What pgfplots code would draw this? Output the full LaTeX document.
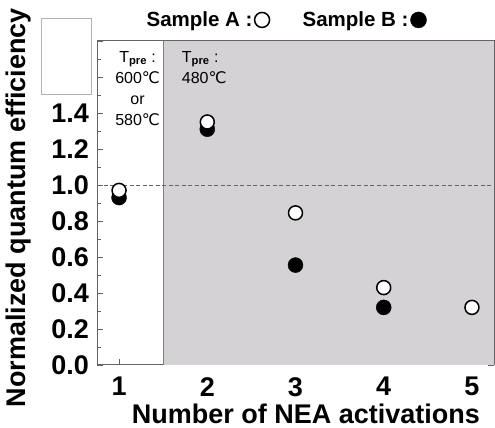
\documentclass[border=0pt]{standalone}
\usepackage{fontspec}
\setmainfont{Liberation Sans}
\newfontfamily\dejavu{DejaVu Sans}
\usepackage{pgfplots}
\pgfplotsset{compat=1.18}
\definecolor{bgshade}{RGB}{212,210,212}
\definecolor{axisgray}{RGB}{100,100,100}
\newcommand{\degc}{{\dejavu ℃}}

\begin{document}
\begin{tikzpicture}
\useasboundingbox (0,0) rectangle (495pt,428pt);
\begin{axis}[
    at={(97pt,63pt)}, anchor=south west,
    scale only axis, width=397pt, height=324pt,
    xmin=0.75, xmax=5.25, ymin=0, ymax=1.8,
    xtick={1,2,3,4,5},
    ytick={0,0.2,0.4,0.6,0.8,1.0,1.2,1.4,1.6,1.8},
    yticklabels={0.0,0.2,0.4,0.6,0.8,1.0,1.2,1.4,,},
    minor ytick={0.1,0.3,0.5,0.7,0.9,1.1,1.3,1.5,1.7},
    xtick pos=bottom,
    tick align=inside,
    major tick length=6pt, minor tick length=4pt,
    tick style={axisgray, line width=0.8pt},
    axis line style={axisgray, line width=1pt},
    /pgf/number format/assume math mode=true,
    tick label style={font=\fontsize{27}{30}\selectfont\bfseries, inner sep=0pt},
    yticklabel style={xshift=-8pt},
    xticklabel style={yshift=-12pt},
    xlabel={Number of NEA activations},
    ylabel={Normalized quantum efficiency},
    label style={font=\fontsize{27}{30}\selectfont\bfseries, inner sep=0pt},
    xlabel style={at={(axis description cs:0.526,-0.150)}, anchor=center},
    ylabel style={at={(axis description cs:-0.197,0.486)}, anchor=center},
    legend columns=2,
    legend plot pos=right,
    legend style={draw=none, fill=none, at={(axis description cs:0.475,1.065)}, anchor=center,
        font=\fontsize{20.5}{24}\selectfont\bfseries, /tikz/every even column/.append style={column sep=31pt}},
]
\fill[bgshade] (axis cs:1.5,0) rectangle (axis cs:5.25,1.8);
\draw[gray, line width=0.8pt] (axis cs:1.5,0) -- (axis cs:1.5,1.8);
\draw[axisgray, dash pattern=on 4pt off 2.5pt, line width=0.8pt] (axis cs:0.75,1.0) -- (axis cs:5.25,1.0);

\addlegendimage{only marks, mark=*, mark size=7.5pt, line width=1.5pt, mark options={fill=white, draw=black}}
\addlegendentry{Sample A :}
\addlegendimage{only marks, mark=*, mark size=8pt, mark options={fill=black, draw=black}}
\addlegendentry{Sample B :}

\addplot[only marks, mark=*, mark size=7.5pt, mark options={fill=black, draw=black}, forget plot] coordinates {
    (1,0.93) (2,1.31) (3,0.555) (4,0.32)
};
\addplot[only marks, mark=*, mark size=7pt, line width=1.5pt, mark options={fill=white, draw=black}, forget plot] coordinates {
    (1,0.97) (2,1.35) (3,0.845) (4,0.43) (5,0.32)
};

\node[anchor=north, align=center, font=\fontsize{16}{21}\selectfont, inner sep=0pt] at (axis cs:1.21,1.745)
    {T\textsubscript{\bfseries pre} :\\600\degc\\or\\580\degc};
\node[anchor=north west, align=left, font=\fontsize{16}{21}\selectfont, inner sep=0pt] at (axis cs:1.71,1.745)
    {T\textsubscript{\bfseries pre} :\\480\degc};
\end{axis}
\draw[gray!60, line width=0.8pt, fill=white] (41pt,334pt) rectangle (91pt,410pt);
\end{tikzpicture}
\end{document}
